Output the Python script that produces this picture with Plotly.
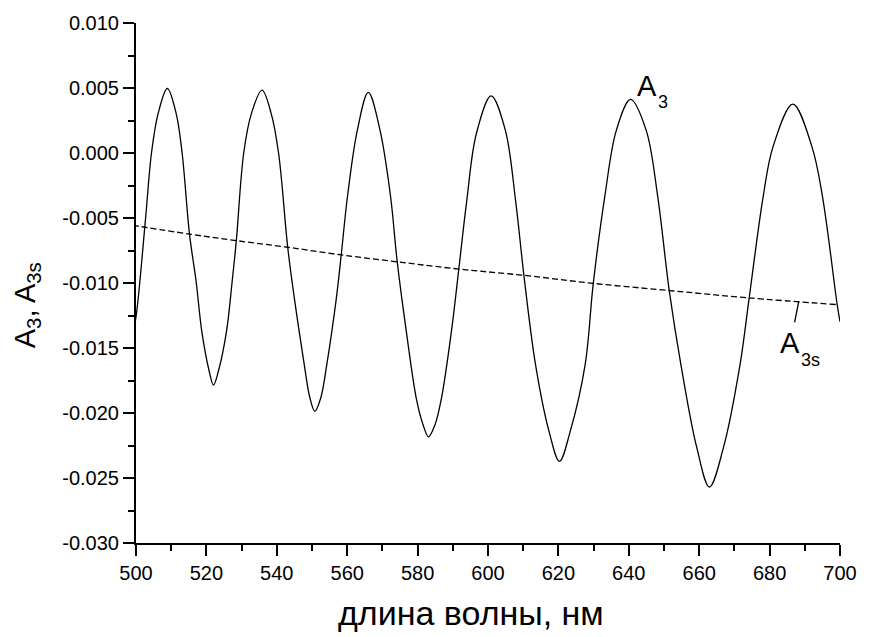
import plotly.graph_objects as go

# Oscillating signal A3 versus wavelength (nm)
wavelength_a3 = [
    499.0, 500.2, 502.7, 504.4, 506.3, 508.9, 511.4, 513.1, 515.2, 517.1,
    518.7, 520.8, 522.0, 523.4, 525.7, 527.3, 528.5, 530.6, 532.8, 535.8,
    538.4, 540.5, 543.1, 545.0, 547.8, 549.4, 550.8, 552.5, 554.2, 556.9,
    558.3, 560.1, 562.9, 566.0, 569.3, 572.3, 574.2, 576.8, 579.6, 581.5,
    583.1, 585.0, 586.8, 589.6, 591.7, 593.9, 596.7, 600.9, 604.9, 607.9,
    610.2, 613.5, 617.3, 620.3, 623.4, 627.6, 629.9, 633.2, 636.5, 640.5,
    644.9, 648.2, 651.5, 654.8, 659.3, 662.9, 666.9, 671.6, 674.2, 678.2,
    681.0, 686.6, 692.0, 695.0, 699.2, 700.0,
]
a3 = [
    -0.01425, -0.01221, -0.00509, 0.00000, 0.00305, 0.00496, 0.00305, 0.00000, -0.00624, -0.00992,
    -0.01374, -0.01679, -0.01786, -0.01679, -0.01374, -0.00992, -0.00674, 0.00000, 0.00305, 0.00483,
    0.00305, 0.00000, -0.00725, -0.01120, -0.01628, -0.01883, -0.01987, -0.01883, -0.01628, -0.01120,
    -0.00784, -0.00331, 0.00178, 0.00466, 0.00178, -0.00331, -0.00834, -0.01374, -0.01883, -0.02086,
    -0.02183, -0.02086, -0.01883, -0.01374, -0.00895, -0.00382, 0.00150, 0.00440, 0.00178, -0.00382,
    -0.00941, -0.01628, -0.02137, -0.02372, -0.02137, -0.01628, -0.01005, -0.00331, 0.00178, 0.00412,
    0.00178, -0.00331, -0.01061, -0.01628, -0.02265, -0.02570, -0.02265, -0.01628, -0.01115, -0.00331,
    0.00051, 0.00376, 0.00051, -0.00331, -0.01166, -0.01298,
]

# Smooth background A3s
wavelength_a3s = [499.0, 515.2, 528.5, 543.1, 558.3, 574.2, 591.7, 610.2, 629.9, 651.5, 674.2, 699.2]
a3s = [-0.00556, -0.00624, -0.00674, -0.00725, -0.00784, -0.00837, -0.00893, -0.00941,
       -0.01003, -0.01058, -0.01115, -0.01166]

# Axis ticks
x_major = [500, 520, 540, 560, 580, 600, 620, 640, 660, 680, 700]
x_minor = [510, 530, 550, 570, 590, 610, 630, 650, 670, 690]
y_major = [-0.030, -0.025, -0.020, -0.015, -0.010, -0.005, 0.000, 0.005, 0.010]
y_major_text = ["-0.030", "-0.025", "-0.020", "-0.015", "-0.010", "-0.005", "0.000", "0.005", "0.010"]
y_minor = [-0.0275, -0.0225, -0.0175, -0.0125, -0.0075, -0.0025, 0.0025, 0.0075]

# Label leader for A3s
leader_x = [688.3, 687.1]
leader_y = [-0.01139, -0.01302]

FONT = "Arial, 'Liberation Sans', sans-serif"

fig = go.Figure()
fig.add_trace(go.Scatter(
    x=wavelength_a3, y=a3, mode="lines",
    line=dict(color="black", width=1.3, shape="spline", smoothing=1.0),
    showlegend=False, hoverinfo="skip",
))
fig.add_trace(go.Scatter(
    x=wavelength_a3s, y=a3s, mode="lines",
    line=dict(color="black", width=1.3, dash="6px,3px", shape="spline"),
    showlegend=False, hoverinfo="skip",
))
fig.add_trace(go.Scatter(
    x=leader_x, y=leader_y, mode="lines",
    line=dict(color="black", width=1.3),
    showlegend=False, hoverinfo="skip",
))


def label(x, y, text, size, xanchor="center", **kw):
    fig.add_annotation(
        x=x, y=y, text=text, showarrow=False, xanchor=xanchor, yanchor="middle",
        font=dict(family=FONT, size=size, color="black"), **kw,
    )


# Curve labels: main letter and subscript placed separately
label(645.3, 0.00515, "A", 29, xref="x", yref="y")
label(649.6, 0.00389, "3", 18, xref="x", yref="y")
label(685.8, -0.01458, "A", 29, xref="x", yref="y")
label(691.6, -0.01592, "3s", 18, xref="x", yref="y")

# Axis titles
label(0.668, -0.1345, "длина волны, нм", 34, xanchor="right", xref="paper", yref="paper")
label(-0.155, 0.457, "A<sub>3</sub>, A<sub>3s</sub>", 29, xref="paper", yref="paper",
      textangle=-90)

axis_common = dict(
    showgrid=False, zeroline=False, showline=True, linecolor="black", linewidth=2,
    ticks="outside", ticklen=11, tickwidth=2, tickcolor="black",
    tickfont=dict(family=FONT, size=20, color="black"),
    mirror=False,
)

fig.update_xaxes(
    **axis_common,
    range=[500, 700], tickmode="array", tickvals=x_major,
    ticktext=[str(v) for v in x_major],
    minor=dict(tickmode="array", tickvals=x_minor, ticks="outside", ticklen=6,
               tickwidth=2, tickcolor="black"),
)
fig.update_yaxes(
    **axis_common,
    range=[-0.030, 0.010], tickmode="array", tickvals=y_major, ticktext=y_major_text,
    minor=dict(tickmode="array", tickvals=y_minor, ticks="outside", ticklen=6,
               tickwidth=2, tickcolor="black"),
)

fig.update_layout(
    width=869, height=637,
    margin=dict(l=136, r=21, t=19, b=94),
    paper_bgcolor="white", plot_bgcolor="white",
)

fig.write_html("out.html")
